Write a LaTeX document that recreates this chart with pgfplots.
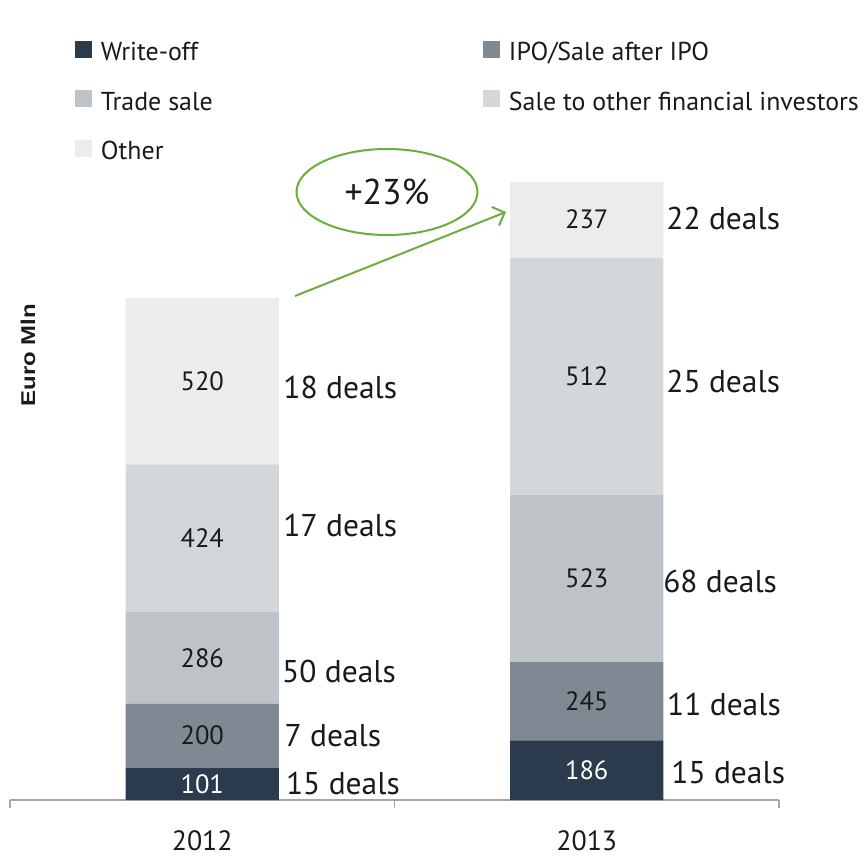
\documentclass[border=0pt]{standalone}
\usepackage{pgfplots}
\pgfplotsset{compat=1.18}
\usepackage{pgfplotstable}
\usepackage{graphicx}
\usepackage{fontspec}
\setmainfont{PT Sans}
\newfontfamily\ylabfont{Liberation Sans}
\usetikzlibrary{arrows.meta}
\definecolor{cWO}{HTML}{2B3A4C}
\definecolor{cIPO}{HTML}{7F8994}
\definecolor{cTR}{HTML}{BEC3C7}
\definecolor{cFI}{HTML}{D4D7DA}
\definecolor{cOT}{HTML}{EBECEE}
\definecolor{cGR}{HTML}{6AAE3F}
\definecolor{cAX}{HTML}{A6A6A6}
\definecolor{cTX}{HTML}{1A1A1A}

\tikzset{
  deal/.style={font=\fontsize{15.8}{18}\selectfont, text=cTX, anchor=west, inner sep=0pt},
}
\pgfplotsset{
  seglab/.style={nodes near coords, point meta=explicit symbolic,
    every node near coord/.append style={anchor=center,
      font=\fontsize{13.3}{15}\selectfont, text=cTX}},
}

% bar heights as drawn in the chart (picture scale), printed values as labels
\pgfplotstableread{
x wo ipo trade fin other lwo lipo ltrade lfin lother
0 101 200 286 462 520 101 200 286 424 520
1 186 245 523 741 237 186 245 523 512 237
}\bars

\begin{document}
\begin{tikzpicture}
\begin{axis}[
  scale only axis, width=384.5bp, height=400bp,
  xmin=-0.5, xmax=1.5, ymin=0, ymax=2500,
  ybar stacked, bar width=0.398,
  axis x line=bottom, axis y line=none, ytick=\empty,
  x axis line style={-, draw=cAX, line width=0.75bp},
  xtick={0,1}, xticklabels={2012,2013},
  major tick length=0pt,
  extra x ticks={-0.5,0.5,1.5}, extra x tick labels={},
  extra x tick style={major tick length=4bp, tick align=outside, tick style={draw=cAX, line width=0.75bp}},
  xticklabel style={font=\fontsize{14}{16}\selectfont, text=cTX, anchor=center, yshift=-20.5bp},
  clip=false,
  legend columns=2,
  legend cell align=left,
  legend style={at={(axis cs:-0.331,2372)}, anchor=north west, draw=none, fill=none,
    inner sep=0pt, outer sep=0pt, row sep=11.75bp, font=\fontsize{13}{15}\selectfont, text=cTX,
    nodes={inner sep=0pt, text height=9bp, text depth=3bp},
    /tikz/every odd column/.append style={column sep=4.5bp},
    /tikz/every even column/.append style={column sep=0pt}},
  legend image code/.code={\fill[#1,draw=none] (0bp,-1.5bp) rectangle (8.5bp,7bp);},
]
\addplot[fill=cWO, draw=none, seglab,
  every node near coord/.append style={text=white}] table[x=x,y=wo,meta=lwo]{\bars};
\addlegendentry{\makebox[191bp][l]{Write-off}}
\addplot[fill=cIPO, draw=none, seglab] table[x=x,y=ipo,meta=lipo]{\bars};
\addlegendentry{IPO/Sale after IPO}
\addplot[fill=cTR, draw=none, seglab] table[x=x,y=trade,meta=ltrade]{\bars};
\addlegendentry{\makebox[191bp][l]{Trade sale}}
\addplot[fill=cFI, draw=none, seglab] table[x=x,y=fin,meta=lfin]{\bars};
\addlegendentry{Sale to other financial investors}
\addplot[fill=cOT, draw=none, seglab] table[x=x,y=other,meta=lother]{\bars};
\addlegendentry{\makebox[191bp][l]{Other}}

% bounding box matching the reference proportions
\path (axis cs:-0.526,-181.25) rectangle (axis cs:1.7237,2500);

% deal counts
\node[deal] at (axis cs:0.210,1289) {18 deals};
\node[deal] at (axis cs:0.210,859) {17 deals};
\node[deal] at (axis cs:0.207,403) {50 deals};
\node[deal] at (axis cs:0.213,200) {7 deals};
\node[deal] at (axis cs:0.217,53) {15 deals};
\node[deal] at (axis cs:1.206,1816) {22 deals};
\node[deal] at (axis cs:1.206,1309) {25 deals};
\node[deal] at (axis cs:1.198,683) {68 deals};
\node[deal] at (axis cs:1.208,297) {11 deals};
\node[deal] at (axis cs:1.219,86) {15 deals};

% growth annotation
\draw[cGR, line width=1bp] (axis cs:0.4805,1900) ellipse [x radius=45.25bp, y radius=21.5bp];
\node[font=\fontsize{18}{20}\selectfont, text=cTX] at (axis cs:0.4805,1900) {+23\%};
\draw[cGR, line width=1bp, -{Straight Barb[length=5bp, width=10bp]}] (axis cs:0.2412,1575) -- (axis cs:0.790,1837.5);

% axis title
\node[rotate=90, inner sep=0pt, text=cTX] at (axis cs:-0.4532,1390.6) {\scalebox{1.2}[1]{\ylabfont\bfseries\fontsize{10}{12}\selectfont Euro Mln}};
\end{axis}
\end{tikzpicture}
\end{document}
